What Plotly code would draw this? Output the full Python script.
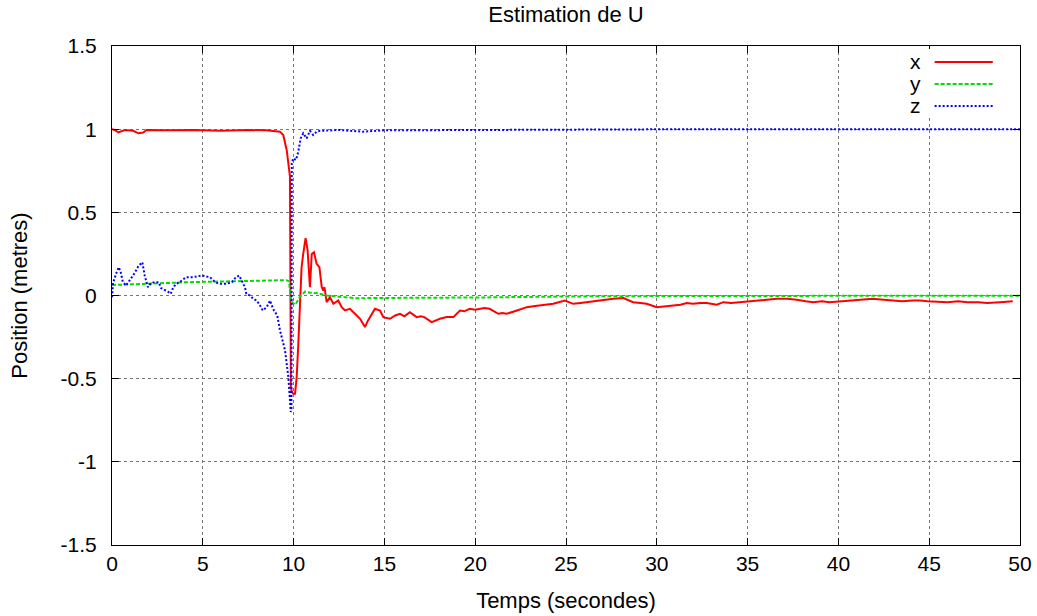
import plotly.graph_objects as go

# x component (red, solid)
t_x = [0, 0.15, 0.35, 0.7, 1.17, 1.45, 1.72, 1.9, 3.0, 4.5, 6.0, 7.5, 8.5, 9.25, 9.43, 9.62, 9.8,
       9.85, 9.9, 9.98, 10.08, 10.17, 10.26, 10.35, 10.44, 10.53, 10.66, 10.77, 10.9, 11.0, 11.12,
       11.27, 11.42, 11.55, 11.64, 11.7, 11.82, 12.0, 12.19, 12.46, 12.65, 12.83, 13.1, 13.38,
       13.66, 13.93, 14.1, 14.48, 14.76, 14.94, 15.3, 15.6, 15.86, 16.1, 16.4, 16.78, 17.0, 17.2,
       17.6, 18.06, 18.43, 18.8, 19.16, 19.4, 19.7, 20.0, 20.26, 20.5, 20.8, 21.27, 21.5, 21.73,
       22.3, 22.84, 23.2, 23.57, 24.3, 24.94, 25.4, 25.8, 26.14, 26.5, 26.87, 27.6, 28.16, 28.7,
       29.1, 29.44, 30.0, 30.5, 30.9, 31.3, 31.65, 32.0, 32.4, 32.75, 33.3, 33.66, 34.1, 34.6,
       35.3, 36.0, 36.6, 37.2, 37.7, 38.2, 38.6, 39.1, 39.5, 40.2, 40.8, 41.3, 41.9, 42.5, 43.0,
       43.5, 44.1, 44.5, 44.9, 45.5, 46.0, 46.6, 47.1, 47.7, 48.2, 48.9, 49.3, 49.6, 50]
x_vals = [1.0, 0.995, 0.98, 0.995, 0.99, 0.975, 0.98, 0.995, 0.993, 0.995, 0.99, 0.995, 0.993,
          0.985, 0.965, 0.875, 0.715, -0.55, -0.58, -0.59, -0.59, -0.49, -0.29, -0.09, 0.17, 0.25,
          0.345, 0.275, 0.05, 0.25, 0.26, 0.19, 0.17, 0.05, 0.03, 0.05, -0.04, -0.01, -0.05, -0.03,
          -0.07, -0.09, -0.08, -0.11, -0.14, -0.19, -0.15, -0.08, -0.09, -0.13, -0.14, -0.12, -0.11,
          -0.125, -0.10, -0.13, -0.125, -0.13, -0.16, -0.14, -0.13, -0.13, -0.09, -0.095, -0.08,
          -0.085, -0.08, -0.075, -0.08, -0.11, -0.105, -0.11, -0.09, -0.07, -0.065, -0.06, -0.05,
          -0.03, -0.05, -0.045, -0.04, -0.035, -0.03, -0.02, -0.015, -0.04, -0.045, -0.05, -0.07,
          -0.065, -0.06, -0.055, -0.045, -0.05, -0.045, -0.045, -0.055, -0.04, -0.045, -0.04,
          -0.03, -0.025, -0.02, -0.02, -0.025, -0.035, -0.04, -0.035, -0.04, -0.035, -0.03, -0.025,
          -0.02, -0.025, -0.03, -0.035, -0.03, -0.03, -0.035, -0.04, -0.04, -0.035, -0.04, -0.04,
          -0.045, -0.04, -0.035, -0.035]

# y component (green, dashed)
t_y = [0, 1, 2, 3, 4, 5, 6, 7, 8, 9, 9.6, 9.75, 9.85, 9.98, 10.1, 10.35, 10.63, 10.9, 11.35, 11.8,
       12.7, 13.5, 14.4, 16.2, 17.5, 19, 20, 21, 22, 23, 25, 28, 30, 35, 40, 45, 50]
y_vals = [0.063, 0.068, 0.072, 0.076, 0.079, 0.082, 0.085, 0.087, 0.089, 0.091, 0.092, 0.085,
          -0.03, -0.047, -0.055, -0.007, 0.023, 0.017, 0.013, 0.0, -0.007, -0.017, -0.015, -0.015,
          -0.016, -0.014, -0.012, -0.011, -0.009, -0.008, -0.006, -0.004, -0.003, -0.002, -0.002,
          -0.001, -0.001]

# z component (blue, dotted)
t_z = [0, 0.03, 0.06, 0.22, 0.37, 0.48, 0.6, 0.77, 0.97, 1.16, 1.32, 1.47, 1.67, 1.8, 1.98, 2.15,
       2.35, 2.57, 2.7, 2.92, 3.08, 3.23, 3.36, 3.52, 3.73, 4.07, 4.46, 4.94, 5.4, 5.67, 5.95, 6.3,
       6.6, 6.83, 7.0, 7.14, 7.32, 7.4, 7.6, 7.78, 7.97, 8.15, 8.3, 8.52, 8.7, 8.8, 8.92, 9.1, 9.25,
       9.53, 9.71, 9.8, 9.84, 9.88, 9.9, 9.98, 10.13, 10.26, 10.39, 10.53, 10.72, 10.9, 11.08,
       11.27, 11.45, 12.5, 13.8, 15, 18, 22, 26, 30, 35, 40, 45, 50]
z_vals = [-0.01, 0.02, 0.075, 0.13, 0.17, 0.14, 0.08, 0.06, 0.09, 0.12, 0.15, 0.18, 0.20, 0.12,
          0.05, 0.075, 0.08, 0.08, 0.045, 0.033, 0.023, 0.01, 0.045, 0.07, 0.08, 0.11, 0.11, 0.12,
          0.11, 0.08, 0.07, 0.07, 0.08, 0.11, 0.12, 0.09, 0.05, 0.01, 0.0, -0.02, -0.03, -0.06,
          -0.09, -0.07, -0.03, -0.06, -0.09, -0.12, -0.21, -0.33, -0.49, -0.63, -0.70, -0.68, 0.795,
          0.825, 0.815, 0.865, 0.945, 0.975, 0.945, 0.99, 0.965, 0.985, 0.99, 0.995, 0.985, 0.993,
          0.995, 0.997, 0.998, 0.999, 0.999, 1.0, 1.0, 1.0]

y_ticks = [-1.5, -1, -0.5, 0, 0.5, 1, 1.5]
y_tick_text = ["-1.5", "-1", "-0.5", "0", "0.5", "1", "1.5"]

font = "Liberation Sans, Arial, Helvetica, sans-serif"

fig = go.Figure()
fig.add_trace(go.Scatter(x=t_x, y=x_vals, mode="lines", name="x",
                         line=dict(color="#ff0000", width=2)))
fig.add_trace(go.Scatter(x=t_y, y=y_vals, mode="lines", name="y",
                         line=dict(color="#00dd00", width=2, dash="4px,2px")))
fig.add_trace(go.Scatter(x=t_z, y=z_vals, mode="lines", name="z",
                         line=dict(color="#0000ff", width=2, dash="2px,2px")))

axis_common = dict(
    showline=True, linecolor="black", linewidth=1, mirror="ticks",
    ticks="inside", ticklen=7, tickcolor="black", automargin=False,
    showgrid=True, gridcolor="#777777", griddash="dot", gridwidth=1,
    zeroline=False, tickfont=dict(size=21, color="black"),
)

fig.update_layout(
    width=1037, height=616,
    margin=dict(l=112, r=17, t=46, b=71),
    paper_bgcolor="white", plot_bgcolor="white",
    font=dict(family=font, color="black"),
    showlegend=False,
    title=dict(text="Estimation de U", x=0.5, xref="paper", y=0.977, yref="container",
               yanchor="middle", font=dict(size=22)),
    xaxis=dict(range=[0, 50], dtick=5, tick0=0,
               title=dict(text="Temps (secondes)", font=dict(size=22), standoff=18),
               **axis_common),
    yaxis=dict(range=[-1.5, 1.5], tickvals=y_ticks, ticktext=y_tick_text,
               ticklabelstandoff=10,
               title=dict(text="Position (metres)", font=dict(size=22), standoff=26),
               **axis_common),
)

# gnuplot-style key: label on the left, line sample on the right
fig.add_shape(type="rect", xref="paper", yref="paper", x0=0.845, x1=0.994, y0=0.86, y1=0.994,
              fillcolor="white", line=dict(width=0), layer="above")
key = [("x", "#ff0000", "solid", 0.968), ("y", "#00dd00", "4px,2px", 0.924),
       ("z", "#0000ff", "2px,2px", 0.880)]
for name, color, dash, ky in key:
    fig.add_annotation(text=name, xref="paper", yref="paper", x=0.893, y=ky,
                       xanchor="right", yanchor="middle", showarrow=False,
                       font=dict(size=21, color="black"))
    fig.add_shape(type="line", xref="paper", yref="paper", x0=0.906, x1=0.970, y0=ky, y1=ky,
                  line=dict(color=color, width=2, dash=dash), layer="above")

# drop the default page margin so the figure fills the window from its top-left corner
fig.write_html("out.html", config={"displayModeBar": False},
               post_script="document.body.style.margin = '0';")
